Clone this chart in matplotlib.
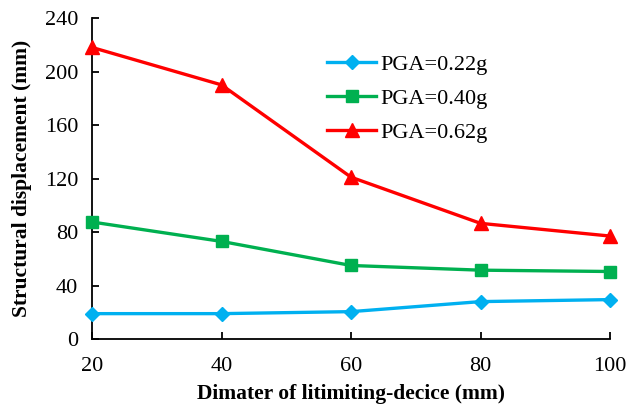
import matplotlib
matplotlib.use("Agg")
import matplotlib.pyplot as plt

diameters = [20, 40, 60, 80, 100]
pga_022 = [19, 19, 20.5, 28, 29.5]
pga_040 = [87.5, 73, 55, 51.5, 50.5]
pga_062 = [218, 190, 121, 86.5, 77]
series_labels = ["PGA=0.22g", "PGA=0.40g", "PGA=0.62g"]
x_ticks = [20, 40, 60, 80, 100]
y_ticks = [0, 40, 80, 120, 160, 200, 240]

plt.rcParams['font.family'] = ['Liberation Serif', 'DejaVu Serif']

fig = plt.figure(figsize=(6.27, 4.09), dpi=100)
ax = fig.add_axes([0.1467, 0.171, 0.8263, 0.785])

ax.plot(diameters, pga_022, color='#00B0F0', marker='D', markersize=7.5, lw=2.4, label=series_labels[0], clip_on=False, zorder=3)
ax.plot(diameters, pga_040, color='#00B050', marker='s', markersize=8.5, lw=2.4, label=series_labels[1], clip_on=False, zorder=3)
ax.plot(diameters, pga_062, color='#FF0000', marker='^', markersize=10, lw=2.4, label=series_labels[2], clip_on=False, zorder=3)

ax.set_xlim(20, 100)
ax.set_ylim(0, 240)
ax.set_xticks(x_ticks)
ax.set_yticks(y_ticks)
ax.tick_params(axis='both', direction='in', labelsize=16, width=1.3, length=5, colors='black')
ax.tick_params(axis='x', pad=13)
ax.tick_params(axis='y', pad=10)
for s in ['top', 'right']:
    ax.spines[s].set_visible(False)
for s in ['left', 'bottom']:
    ax.spines[s].set_linewidth(1.3)

ax.set_xlabel("Dimater of litimiting-decice (mm)", fontsize=15.5, fontweight='bold', labelpad=6)
ax.set_ylabel("Structural displacement (mm)", fontsize=15.5, fontweight='bold', labelpad=9)

leg = ax.legend(loc='upper left', bbox_to_anchor=(0.437, 0.915), frameon=False, fontsize=16,
                handlelength=2.2, handletextpad=0.2, labelspacing=0.6, borderaxespad=0)

fig.savefig("out.png", dpi=100)
